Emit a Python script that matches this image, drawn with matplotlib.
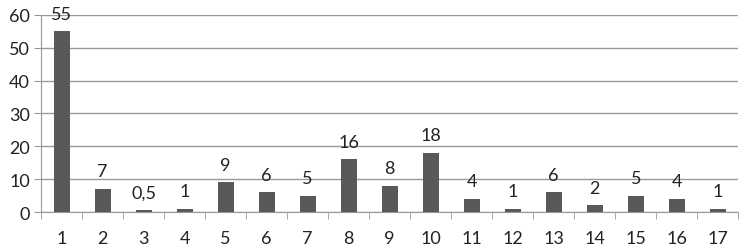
import numpy as np
import matplotlib.pyplot as plt

categories = [str(i) for i in range(1, 18)]
values = [55, 7, 0.5, 1, 9, 6, 5, 16, 8, 18, 4, 1, 6, 2, 5, 4, 1]
value_labels = ['55', '7', '0,5', '1', '9', '6', '5', '16', '8', '18',
                '4', '1', '6', '2', '5', '4', '1']

plt.rcParams['font.family'] = ['Lato', 'DejaVu Sans']

fig = plt.figure(figsize=(7.48, 2.53), dpi=100)
ax = fig.add_axes([0.055, 0.158, 0.932, 0.779])

x = np.arange(len(categories))
bars = ax.bar(x, values, width=0.39, color='#595959', zorder=3)

for rect, lab in zip(bars, value_labels):
    ax.annotate(lab, (rect.get_x() + rect.get_width() / 2, rect.get_height()),
                xytext=(0, 7), textcoords='offset points',
                ha='center', va='bottom', fontsize=13, color='#222222', zorder=4)

ax.set_xlim(-0.5, len(categories) - 0.5)
ax.set_ylim(0, 60)
ax.set_yticks(range(0, 61, 10))
ax.yaxis.grid(True, color='#999999', linewidth=1, zorder=0)

ax.set_xticks(x)
ax.set_xticklabels(categories)
ax.set_xticks(np.arange(-0.5, len(categories), 1), minor=True)
ax.tick_params(axis='x', which='major', length=0, pad=13, labelsize=13, colors='#222222')
ax.tick_params(axis='x', which='minor', length=5, color='#999999', direction='out')
ax.tick_params(axis='y', length=5, color='#999999', labelsize=13, labelcolor='#222222', pad=3)

for s in ['top', 'right']:
    ax.spines[s].set_visible(False)
ax.spines['left'].set_color('#999999')
ax.spines['bottom'].set_color('#999999')

fig.savefig('out.png', dpi=100)
